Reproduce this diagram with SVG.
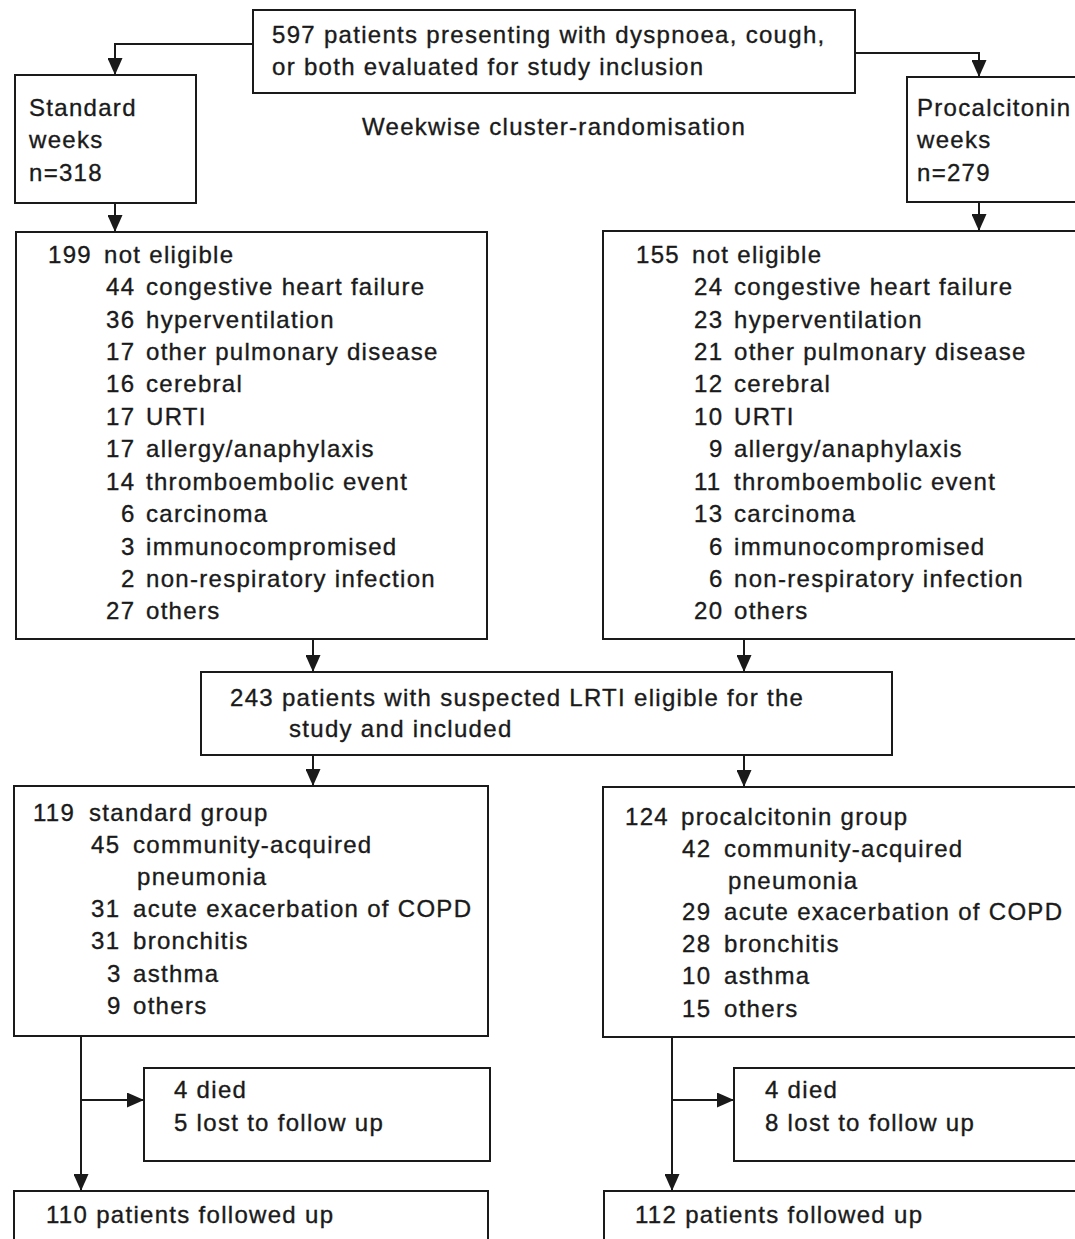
<svg xmlns="http://www.w3.org/2000/svg" width="1075" height="1239" viewBox="0 0 1075 1239">
<style>
.box{fill:#fff;stroke:#1a1a1a;stroke-width:2}
.t{font-family:"Liberation Sans",Arial,sans-serif;font-size:24px;letter-spacing:1.3px;fill:#1a1a1a;stroke:#1a1a1a;stroke-width:0.35px}
.c{fill:none;stroke:#1a1a1a;stroke-width:2}
</style>
<defs>
<marker id="ah" markerUnits="userSpaceOnUse" markerWidth="17" markerHeight="15" refX="17" refY="7.5" orient="auto">
<path d="M0,0 L17,7.5 L0,15 z" fill="#1a1a1a"/>
</marker>
</defs>
<rect width="1075" height="1239" fill="#fff"/>

<g id="connectors">
<path class="c" d="M253,44 H115 V75" marker-end="url(#ah)"/>
<path class="c" d="M855,53 H979 V77" marker-end="url(#ah)"/>
<path class="c" d="M115,203 V232" marker-end="url(#ah)"/>
<path class="c" d="M979,202 V231" marker-end="url(#ah)"/>
<path class="c" d="M313,639 V672" marker-end="url(#ah)"/>
<path class="c" d="M744,639 V672" marker-end="url(#ah)"/>
<path class="c" d="M313,755 V786" marker-end="url(#ah)"/>
<path class="c" d="M744,755 V787" marker-end="url(#ah)"/>
<path class="c" d="M81,1036 V1191" marker-end="url(#ah)"/>
<path class="c" d="M81,1100 H144" marker-end="url(#ah)"/>
<path class="c" d="M672,1037 V1191" marker-end="url(#ah)"/>
<path class="c" d="M672,1100 H734" marker-end="url(#ah)"/>
</g>

<g id="n_top">
<rect class="box" x="253" y="10" width="602" height="83"/>
<text class="t" x="272" y="43">597 patients presenting with dyspnoea, cough,</text>
<text class="t" x="272" y="75">or both evaluated for study inclusion</text>
</g>

<g id="n_label">
<text class="t" x="362" y="135">Weekwise cluster-randomisation</text>
</g>

<g id="n_standard">
<rect class="box" x="15" y="75" width="181" height="128"/>
<text class="t" x="29" y="116">Standard</text>
<text class="t" x="29" y="148">weeks</text>
<text class="t" x="29" y="181">n=318</text>
</g>

<g id="n_procalcitonin">
<rect class="box" x="907" y="77" width="180" height="125"/>
<text class="t" x="917" y="116">Procalcitonin</text>
<text class="t" x="917" y="148">weeks</text>
<text class="t" x="917" y="181">n=279</text>
</g>

<g id="n_notelig_std">
<rect class="box" x="16" y="232" width="471" height="407"/>
<text class="t" x="48" y="263">199</text><text class="t" x="104" y="263">not eligible</text>
<text class="t" x="106" y="295">44</text><text class="t" x="146" y="295">congestive heart failure</text>
<text class="t" x="106" y="328">36</text><text class="t" x="146" y="328">hyperventilation</text>
<text class="t" x="106" y="360">17</text><text class="t" x="146" y="360">other pulmonary disease</text>
<text class="t" x="106" y="392">16</text><text class="t" x="146" y="392">cerebral</text>
<text class="t" x="106" y="425">17</text><text class="t" x="146" y="425">URTI</text>
<text class="t" x="106" y="457">17</text><text class="t" x="146" y="457">allergy/anaphylaxis</text>
<text class="t" x="106" y="490">14</text><text class="t" x="146" y="490">thromboembolic event</text>
<text class="t" x="121" y="522">6</text><text class="t" x="146" y="522">carcinoma</text>
<text class="t" x="121" y="555">3</text><text class="t" x="146" y="555">immunocompromised</text>
<text class="t" x="121" y="587">2</text><text class="t" x="146" y="587">non-respiratory infection</text>
<text class="t" x="106" y="619">27</text><text class="t" x="146" y="619">others</text>
</g>

<g id="n_notelig_pct">
<rect class="box" x="603" y="231" width="490" height="408"/>
<text class="t" x="636" y="263">155</text><text class="t" x="692" y="263">not eligible</text>
<text class="t" x="694" y="295">24</text><text class="t" x="734" y="295">congestive heart failure</text>
<text class="t" x="694" y="328">23</text><text class="t" x="734" y="328">hyperventilation</text>
<text class="t" x="694" y="360">21</text><text class="t" x="734" y="360">other pulmonary disease</text>
<text class="t" x="694" y="392">12</text><text class="t" x="734" y="392">cerebral</text>
<text class="t" x="694" y="425">10</text><text class="t" x="734" y="425">URTI</text>
<text class="t" x="709" y="457">9</text><text class="t" x="734" y="457">allergy/anaphylaxis</text>
<text class="t" x="694" y="490">11</text><text class="t" x="734" y="490">thromboembolic event</text>
<text class="t" x="694" y="522">13</text><text class="t" x="734" y="522">carcinoma</text>
<text class="t" x="709" y="555">6</text><text class="t" x="734" y="555">immunocompromised</text>
<text class="t" x="709" y="587">6</text><text class="t" x="734" y="587">non-respiratory infection</text>
<text class="t" x="694" y="619">20</text><text class="t" x="734" y="619">others</text>
</g>

<g id="n_included">
<rect class="box" x="201" y="672" width="691" height="83"/>
<text class="t" x="230" y="706">243 patients with suspected LRTI eligible for the</text>
<text class="t" x="289" y="737">study and included</text>
</g>

<g id="n_std_group">
<rect class="box" x="14" y="786" width="474" height="250"/>
<text class="t" x="33" y="821">119</text><text class="t" x="89" y="821">standard group</text>
<text class="t" x="91" y="853">45</text><text class="t" x="133" y="853">community-acquired</text>
<text class="t" x="137" y="885">pneumonia</text>
<text class="t" x="91" y="917">31</text><text class="t" x="133" y="917">acute exacerbation of COPD</text>
<text class="t" x="91" y="949">31</text><text class="t" x="133" y="949">bronchitis</text>
<text class="t" x="107" y="982">3</text><text class="t" x="133" y="982">asthma</text>
<text class="t" x="107" y="1014">9</text><text class="t" x="133" y="1014">others</text>
</g>

<g id="n_pct_group">
<rect class="box" x="603" y="787" width="490" height="250"/>
<text class="t" x="625" y="825">124</text><text class="t" x="681" y="825">procalcitonin group</text>
<text class="t" x="682" y="857">42</text><text class="t" x="724" y="857">community-acquired</text>
<text class="t" x="728" y="889">pneumonia</text>
<text class="t" x="682" y="920">29</text><text class="t" x="724" y="920">acute exacerbation of COPD</text>
<text class="t" x="682" y="952">28</text><text class="t" x="724" y="952">bronchitis</text>
<text class="t" x="682" y="984">10</text><text class="t" x="724" y="984">asthma</text>
<text class="t" x="682" y="1017">15</text><text class="t" x="724" y="1017">others</text>
</g>

<g id="n_lost_std">
<rect class="box" x="144" y="1068" width="346" height="93"/>
<text class="t" x="174" y="1098">4 died</text>
<text class="t" x="174" y="1131">5 lost to follow up</text>
</g>

<g id="n_lost_pct">
<rect class="box" x="734" y="1068" width="360" height="93"/>
<text class="t" x="765" y="1098">4 died</text>
<text class="t" x="765" y="1131">8 lost to follow up</text>
</g>

<g id="n_fu_std">
<rect class="box" x="14" y="1191" width="474" height="80"/>
<text class="t" x="46" y="1223">110 patients followed up</text>
</g>

<g id="n_fu_pct">
<rect class="box" x="604" y="1191" width="490" height="80"/>
<text class="t" x="635" y="1223">112 patients followed up</text>
</g>
</svg>
